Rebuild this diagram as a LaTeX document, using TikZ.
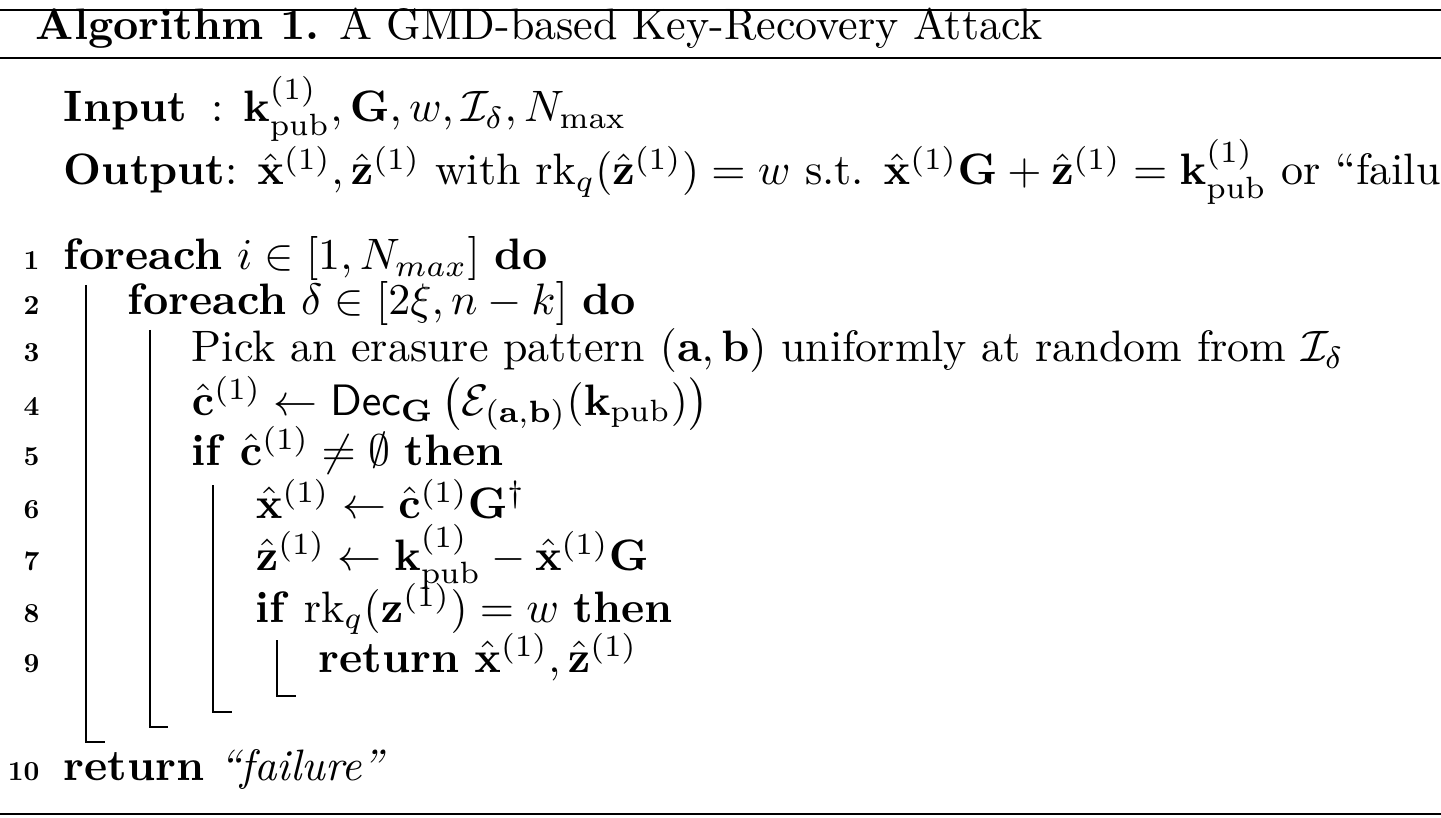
\documentclass[tikz,border=0pt]{standalone}
\usepackage{amsmath,amssymb}
\begin{document}
\begin{tikzpicture}[x=1pt,y=-1pt,
  txt/.style={anchor=base west,inner sep=0pt,scale=4.4},
  num/.style={anchor=base east,inner sep=0pt,scale=2.75,font=\bfseries},
  bar/.style={line width=1.5pt}]
\fill[white] (0,0) rectangle (1441,818);
\useasboundingbox (0,0) rectangle (1441,818);
\draw[line width=2.5pt] (0,10) -- (1441,10);
\draw[line width=2pt] (0,58) -- (1441,58);
\draw[line width=2.5pt] (0,814) -- (1441,814);
\node[txt] (title) at (35,40) {\textbf{Algorithm 1.} A GMD-based Key-Recovery Attack};
\node[txt] (in) at (63,122) {\textbf{Input}\hspace{0.55em}: $\mathbf{k}_{\mathrm{pub}}^{(1)},\mathbf{G},w,\mathcal{I}_\delta,N_{\max}$};
\node[txt] (out) at (63,185) {\textbf{Output}: $\hat{\mathbf{x}}^{(1)},\hat{\mathbf{z}}^{(1)}$ with $\mathrm{rk}_q(\hat{\mathbf{z}}^{(1)})=w$ s.t. $\hat{\mathbf{x}}^{(1)}\mathbf{G}+\hat{\mathbf{z}}^{(1)}=\mathbf{k}_{\mathrm{pub}}^{(1)}$ or ``failure''};
\foreach \n/\y in {1/270,2/315,3/362,4/415,5/465,6/518,7/570,8/622,9/672,10/780}
  \node[num] (n\n) at (40,\y) {\n};
\node[txt] (l1) at (63,270) {\textbf{foreach} $i\in[1,N_{max}]$ \textbf{do}};
\node[txt] (l2) at (127,315) {\textbf{foreach} $\delta\in[2\xi,n-k]$ \textbf{do}};
\node[txt] (l3) at (191,362) {Pick an erasure pattern $(\mathbf{a},\mathbf{b})$ uniformly at random from $\mathcal{I}_\delta$};
\node[txt] (l4) at (191,415) {$\hat{\mathbf{c}}^{(1)}\leftarrow\mathsf{Dec}_{\mathbf{G}}\left(\mathcal{E}_{(\mathbf{a},\mathbf{b})}(\mathbf{k}_{\mathrm{pub}})\right)$};
\node[txt] (l5) at (191,465) {\textbf{if} $\hat{\mathbf{c}}^{(1)}\neq\emptyset$ \textbf{then}};
\node[txt] (l6) at (255,518) {$\hat{\mathbf{x}}^{(1)}\leftarrow\hat{\mathbf{c}}^{(1)}\mathbf{G}^{\dagger}$};
\node[txt] (l7) at (255,570) {$\hat{\mathbf{z}}^{(1)}\leftarrow\mathbf{k}_{\mathrm{pub}}^{(1)}-\hat{\mathbf{x}}^{(1)}\mathbf{G}$};
\node[txt] (l8) at (255,622) {\textbf{if} $\mathrm{rk}_q(\mathbf{z}^{(1)})=w$ \textbf{then}};
\node[txt] (l9) at (318,672) {\textbf{return} $\hat{\mathbf{x}}^{(1)},\hat{\mathbf{z}}^{(1)}$};
\node[txt] (l10) at (63,780) {\textbf{return} \textit{``failure''}};
\draw[bar] (86,285) -- (86,742) -- (105,742);
\draw[bar] (150,330) -- (150,727) -- (168,727);
\draw[bar] (213,485) -- (213,712) -- (232,712);
\draw[bar] (277,640) -- (277,696) -- (296,696);
\end{tikzpicture}
\end{document}
